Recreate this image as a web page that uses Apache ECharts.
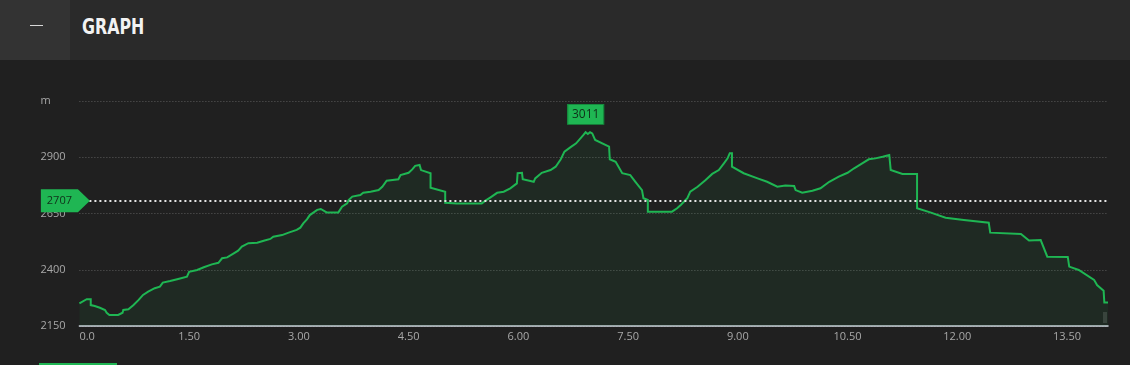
<!DOCTYPE html>
<html><head><meta charset="utf-8">
<script src="https://cdn.jsdelivr.net/npm/echarts@6/dist/echarts.min.js"></script>
<style>
html,body{margin:0;padding:0;background:#202020;width:1130px;height:365px;overflow:hidden}
#hdr{position:absolute;left:0;top:0;width:1130px;height:60px;background:#2a2a2a}
#btn{position:absolute;left:0;top:0;width:70px;height:60px;background:#333333}
#dash{position:absolute;left:30px;top:25px;width:13px;height:1px;background:#d8d8d8}
#title{position:absolute;left:82px;top:14px;font-family:'Liberation Sans Narrow','DejaVu Sans Condensed',sans-serif;font-weight:bold;font-size:22px;color:#f2f2f2;transform:scaleX(0.8);transform-origin:left center}
#chart{position:absolute;left:0;top:0;width:1130px;height:365px}
#tab{position:absolute;left:39px;top:363px;width:78px;height:2px;background:#1fb653}
#endbox{position:absolute;left:1103px;top:312px;width:4px;height:11px;background:#3c3c3c}
</style></head>
<body>
<div id="hdr"><div id="btn"><div id="dash"></div></div><div id="title">GRAPH</div></div>
<div id="endbox"></div>
<div id="chart"></div>
<div id="tab"></div>
<script>
// distance along route (km)
const dist = [0, 0.10, 0.155, 0.155, 0.21, 0.28, 0.305, 0.35, 0.373, 0.41,
  0.53, 0.555, 0.59, 0.60, 0.67, 0.74, 0.81, 0.87, 0.94, 1.03,
  1.10, 1.14, 1.24, 1.35, 1.47, 1.50, 1.61, 1.70, 1.81, 1.90,
  1.95, 2.02, 2.11, 2.17, 2.22, 2.31, 2.43, 2.52, 2.61, 2.65,
  2.77, 2.86, 2.97, 3.02, 3.06, 3.11, 3.15, 3.25, 3.30, 3.38,
  3.54, 3.59, 3.66, 3.68, 3.73, 3.84, 3.88, 3.98, 4.09, 4.14,
  4.20, 4.36, 4.39, 4.50, 4.55, 4.59, 4.65, 4.67, 4.80, 4.80,
  5.00, 5.00, 5.16, 5.50, 5.55, 5.62, 5.71, 5.80, 5.89, 5.98,
  5.99, 6.05, 6.06, 6.21, 6.23, 6.32, 6.44, 6.51, 6.58, 6.63,
  6.71, 6.79, 6.89, 6.92, 6.95, 6.98, 7.01, 7.05, 7.24, 7.25,
  7.33, 7.42, 7.53, 7.60, 7.69, 7.71, 7.77, 7.77, 8.10, 8.17,
  8.22, 8.31, 8.35, 8.45, 8.56, 8.65, 8.74, 8.81, 8.86, 8.89,
  8.92, 8.92, 9.08, 9.27, 9.40, 9.54, 9.65, 9.77, 9.79, 9.88,
  10.02, 10.13, 10.25, 10.38, 10.50, 10.59, 10.70, 10.79, 10.88, 10.98,
  11.07, 11.09, 11.09, 11.25, 11.45, 11.45, 11.64, 11.84, 12.09, 12.43,
  12.45, 12.87, 12.98, 13.14, 13.23, 13.51, 13.53, 13.66, 13.87, 13.91,
  14.00, 14.01, 14.06];
// elevation (m)
const elev = [2251, 2269, 2269, 2243, 2239, 2231, 2224, 2221, 2209, 2199,
  2199, 2206, 2209, 2221, 2224, 2243, 2266, 2288, 2303, 2318,
  2325, 2343, 2350, 2359, 2369, 2391, 2399, 2411, 2424, 2431,
  2451, 2455, 2473, 2485, 2503, 2518, 2520, 2529, 2537, 2547,
  2554, 2565, 2577, 2587, 2606, 2624, 2643, 2666, 2670, 2655,
  2655, 2680, 2695, 2710, 2725, 2732, 2742, 2747, 2754, 2769,
  2796, 2802, 2821, 2831, 2846, 2862, 2866, 2843, 2829, 2765,
  2747, 2698, 2695, 2695, 2707, 2722, 2742, 2747, 2762, 2784,
  2829, 2831, 2802, 2791, 2806, 2831, 2843, 2858, 2891, 2925,
  2944, 2962, 2999, 3011, 3003, 3011, 3006, 2977, 2947, 2891,
  2880, 2829, 2821, 2791, 2754, 2718, 2710, 2658, 2658, 2673,
  2688, 2718, 2747, 2769, 2799, 2826, 2843, 2873, 2895, 2918,
  2918, 2858, 2829, 2806, 2791, 2769, 2774, 2772, 2754, 2742,
  2751, 2762, 2791, 2814, 2831, 2851, 2873, 2891, 2895, 2902,
  2910, 2913, 2843, 2826, 2826, 2673, 2654, 2631, 2621, 2609,
  2565, 2559, 2530, 2532, 2458, 2457, 2414, 2399, 2355, 2332,
  2307, 2254, 2254];
const refLevel = 2707;
const yTickMin = 2150, yTickMax = 3150, yStep = 250;
const xTickStep = 1.5, xMax = 14.06;
const yUnit = 'm';

const GREEN = '#1fb653';
const data = dist.map((d, i) => [d, elev[i]]);

const chart = echarts.init(document.getElementById('chart'), null, {renderer: 'canvas'});
chart.setOption({
  backgroundColor: 'transparent',
  animation: false,
  grid: {left: 79.4, right: 22, top: 101, bottom: 39},
  xAxis: {
    type: 'value', min: 0, max: xMax, interval: xTickStep,
    axisLine: {show: true, onZero: false, lineStyle: {color: '#cfd6e0', width: 1.5}},
    axisTick: {show: false}, splitLine: {show: false},
    axisLabel: {color: '#a8a8a8', fontFamily: 'Open Sans', fontSize: 11, margin: 5,
      showMaxLabel: false, alignMinLabel: 'left',
      formatter: v => v === 0 ? '0.0' : v.toFixed(2)}
  },
  yAxis: {
    type: 'value', min: yTickMin, max: yTickMax, interval: yStep,
    axisLine: {show: false}, axisTick: {show: false},
    splitLine: {show: true, lineStyle: {color: '#5c5c5c', type: [1, 2], width: 1}},
    axisLabel: {color: '#a8a8a8', fontFamily: 'Open Sans', fontSize: 11, align: 'left', margin: 39,
      formatter: v => v === yTickMax ? yUnit : String(v)}
  },
  series: [{
    type: 'line', data: data, symbol: 'none', showSymbol: false, z: 3,
    lineStyle: {color: GREEN, width: 2, join: 'miter'},
    areaStyle: {color: 'rgba(31,182,83,0.10)'},
    markLine: {
      silent: true, symbol: 'none', z: 4,
      label: {show: false},
      lineStyle: {color: '#e6e6e6', type: [2, 3], width: 2},
      data: [{yAxis: refLevel}]
    },
    markPoint: {
      z: 6,
      data: [
        {type: 'max', valueIndex: 1, symbol: 'rect', symbolSize: [36, 20], symbolOffset: [0, -18],
          itemStyle: {color: GREEN, borderColor: '#158a3c', borderWidth: 1},
          label: {show: true, position: 'inside', color: '#10301a', fontSize: 12, fontFamily: 'Open Sans',
            formatter: p => String(p.value)}},
        {coord: [0, refLevel], value: refLevel, symbol: 'path://M0,0 L37,0 L49,11.5 L37,23 L0,23 Z',
          symbolSize: [49, 23], symbolKeepAspect: false, symbolOffset: [-14, 0],
          itemStyle: {color: GREEN},
          label: {show: true, position: 'inside', offset: [-6, 0], color: '#10301a', fontSize: 11, fontFamily: 'Open Sans',
            formatter: p => String(p.value)}}
      ]
    }
  }]
});
</script>
</body></html>
